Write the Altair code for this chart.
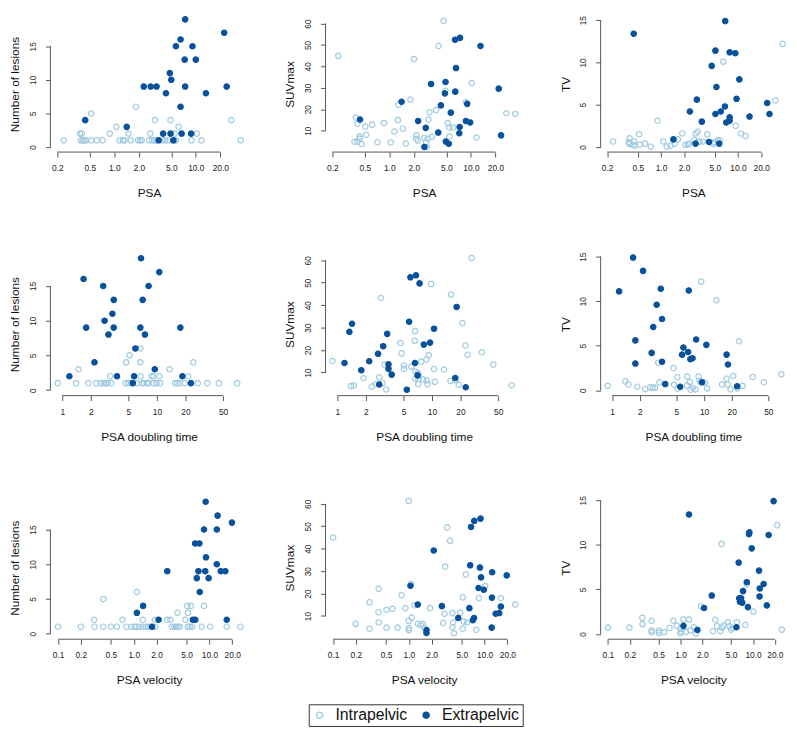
import altair as alt
import pandas as pd

GROUPS = ["Intrapelvic", "Extrapelvic"]
LIGHT = "#9ecae1"
DARK = "#08519c"
AXC = "#555555"
FONT = "Liberation Sans"

# ---------------- tick values ----------------
PSA_TICKS = [0.2, 0.5, 1, 2, 5, 10, 20]
PSADT_TICKS = [1, 2, 5, 10, 20, 50]
PSAV_TICKS = [0.1, 0.2, 0.5, 1, 2, 5, 10, 20]
LES_TICKS = [0, 5, 10, 15]
SUV_TICKS = [10, 20, 30, 40, 50, 60]
TV_TICKS = [0, 5, 10, 15]

# ---------------- panel 1: PSA vs Number of lesions ----------------
p1_ex_x = [7.4, 22.3, 6.5, 5.7, 9.1, 7.3, 10.0, 4.8, 5.0, 2.3, 2.8, 3.3, 7.4, 23.9, 4.3, 13.3, 6.5, 0.44, 1.42, 3.97, 4.9, 6.7, 8.75, 3.5, 5.3]
p1_ex_y = [19, 17, 16, 15, 15, 13, 13, 11, 10, 9, 9, 9, 9, 9, 8, 8, 6, 4, 3, 2, 2, 2, 2, 1, 1]
p1_in_x = [0.24, 0.39, 0.41, 0.43, 0.45, 0.52, 0.61, 0.72, 1.16, 1.28, 1.34, 1.59, 1.96, 2.08, 2.17, 2.67, 2.93, 3.10, 3.27, 3.87, 4.21, 4.61, 5.45, 5.71, 8.84, 11.7, 35.6,
           0.38, 0.40, 0.88, 1.49, 2.77, 5.5, 10.3,
           1.06, 6.15,
           3.15, 4.9, 27.2,
           0.52,
           1.84]
p1_in_y = [1] * 27 + [2] * 7 + [3] * 2 + [4] * 3 + [5] + [6]

# ---------------- panel 2: PSA vs SUVmax ----------------
p2_ex_x = [7.34, 6.38, 13.1, 6.56, 4.88, 3.24, 21.9, 6.43, 4.79, 4.28, 9.0, 1.41, 5.66, 0.436, 2.25, 8.67, 9.79, 7.27, 2.79, 3.97, 7.2, 23.4, 4.92, 5.35, 2.69]
p2_ex_y = [53.3, 52.4, 49.5, 39.2, 32.7, 31.8, 29.6, 28.2, 27.4, 21.8, 22.5, 23.5, 18.4, 15.2, 14.5, 14.5, 13.8, 11.7, 11.3, 9.1, 8.8, 7.8, 4.9, 3.9, 2.4]
p2_in_x = [4.61, 0.236, 4.01, 2.0, 10.2, 4.88, 1.81, 1.29, 8.67, 3.73, 3.1, 27.2, 34.9, 0.387, 1.27, 3.01, 0.859, 0.405, 0.615, 0.506, 5.2, 5.45, 6.04, 1.46, 1.15, 0.52, 2.15, 2.13, 3.3, 2.67, 5.45, 11.7, 0.43, 0.43, 0.373, 0.405, 0.457, 0.713, 1.04, 1.59, 2.23, 2.82, 2.86, 2.95]
p2_in_y = [61.2, 44.9, 49.5, 43.4, 32.2, 28.6, 24.5, 22.1, 23.2, 19.6, 18.6, 18.1, 17.8, 16.1, 14.9, 15.2, 13.5, 13.2, 12.8, 11.9, 13.5, 11.5, 11.5, 10.9, 9.6, 8.1, 7.8, 6.2, 7.1, 6.7, 7.2, 6.8, 7.2, 6.2, 4.8, 4.9, 3.75, 4.6, 4.5, 4.0, 5.3, 4.5, 2.4, 6.2]

# ---------------- panel 3: PSA vs TV ----------------
p3_ex_x = [6.82, 0.442, 5.09, 7.78, 9.22, 4.55, 10.4, 5.24, 2.92, 9.57, 23.9, 2.37, 6.76, 5.97, 5.09, 25.6, 7.78, 14.1, 7.78, 7.02, 3.39, 1.45, 4.21, 2.81, 5.7]
p3_ex_y = [14.9, 13.4, 11.4, 11.2, 11.1, 9.6, 8.0, 7.1, 5.6, 5.7, 5.2, 4.2, 4.8, 4.2, 3.9, 3.9, 3.5, 3.6, 3.1, 2.9, 3.0, 0.9, 0.6, 0.4, 0.4]
p3_in_x = [38.0, 6.44, 0.897, 9.31, 30.6, 10.9, 12.5, 0.519, 0.239, 0.391, 0.38, 0.39, 0.446, 0.43, 0.46, 0.53, 0.621, 0.736, 1.07, 1.19, 1.33, 1.5, 1.66, 1.89, 2.08, 2.24, 2.3, 2.70, 2.82, 3.0, 3.05, 3.2, 3.5, 3.98, 4.9, 5.44, 5.8, 4.72]
p3_in_y = [12.2, 10.1, 3.1, 2.5, 5.5, 1.6, 1.3, 1.5, 0.66, 1.03, 0.55, 0.37, 0.66, 0.26, 0.15, 0.29, 0.4, 0.04, 0.66, 0.04, 0.15, 0.4, 0.9, 1.6, 0.26, 0.33, 0.37, 0.85, 1.6, 1.8, 0.63, 0.63, 0.66, 1.5, 0.55, 0.8, 0.8, 0.37]

# ---------------- panel 4: PSA doubling time vs Number of lesions ----------------
p4_ex_x = [6.8, 10.6, 1.68, 2.71, 8.17, 3.5, 7.07, 3.39, 1.79, 2.8, 3.5, 6.69, 17.7, 3.08, 7.48, 5.93, 2.19, 9.5, 1.19, 3.79, 5.75, 18.6, 5.56, 22.9]
p4_ex_y = [19, 17, 16, 15, 15, 13, 13, 11, 9, 10, 9, 9, 9, 8, 8, 6, 4, 3, 2, 2, 2, 2, 1, 1]
p4_in_x = [0.894, 1.40, 1.89, 2.29, 2.55, 2.76, 2.89, 3.01, 3.31, 4.67, 5.01, 5.35, 6.12, 6.96, 7.24, 7.85, 8.17, 9.2, 9.89, 10.8, 15.6, 16.4, 17.4, 19.7, 27.0, 34.1, 45.1, 70.5,
           3.21, 6.74, 8.77, 9.2, 10.6, 21.4,
           1.49, 13.6,
           4.74, 6.69, 24.2,
           5.14,
           6.69]
p4_in_y = [1] * 28 + [2] * 6 + [3] * 2 + [4] * 3 + [5] + [6]

# ---------------- panel 5: PSA doubling time vs SUVmax ----------------
p5_ex_x = [6.77, 5.91, 7.39, 18.2, 5.73, 1.43, 1.34, 10.5, 3.36, 3.05, 8.2, 9.53, 2.69, 6.61, 1.19, 2.17, 3.47, 3.47, 1.79, 3.75, 7.04, 17.6, 2.77, 22.7, 5.42]
p5_ex_y = [53.3, 52.4, 49.7, 39.2, 32.6, 31.7, 28.1, 29.5, 27.2, 21.7, 22.4, 23.3, 18.3, 14.2, 14.2, 15.0, 13.6, 11.6, 11.0, 9.0, 8.7, 7.5, 4.6, 3.4, 2.3]
p5_in_x = [26.2, 9.77, 2.89, 15.9, 21.0, 6.61, 6.56, 4.65, 22.5, 4.77, 9.23, 23.8, 33.6, 8.73, 7.69, 0.887, 44.4, 3.17, 5.04, 5.06, 6.05, 10.5, 13.4, 6.7, 7.1, 6.66, 7.2, 8.07, 8.8, 10.7, 15.7, 17.6, 1.89, 2.77, 1.49, 1.39, 2.31, 2.56, 3.0, 3.28, 7.15, 8.95, 19.2, 69.3, 7.2]
p5_in_y = [61.0, 49.4, 43.2, 44.7, 32.0, 28.4, 24.1, 23.1, 22.0, 18.5, 17.7, 17.9, 19.0, 15.8, 14.8, 15.1, 13.5, 13.5, 13.1, 11.6, 12.6, 11.5, 11.3, 10.4, 9.7, 7.2, 7.2, 6.9, 6.4, 5.8, 6.2, 6.6, 7.4, 7.8, 4.2, 3.9, 3.7, 4.75, 5.2, 2.4, 4.75, 4.75, 4.5, 4.3, 8.8]

# ---------------- panel 6: PSA doubling time vs TV ----------------
p6_ex_x = [1.69, 2.17, 1.19, 3.38, 6.82, 3.05, 3.49, 2.8, 1.79, 8.2, 10.6, 5.96, 2.69, 6.71, 5.77, 17.6, 7.1, 7.5, 3.49, 1.79, 18.2, 3.78, 5.5, 9.53, 22.9]
p6_ex_y = [14.9, 13.4, 11.1, 11.4, 11.2, 9.6, 8.0, 7.1, 5.6, 5.7, 5.1, 4.8, 4.2, 4.3, 4.0, 4.0, 3.5, 3.6, 3.2, 3.0, 2.9, 0.7, 0.4, 0.9, 0.45]
p6_in_x = [9.31, 13.6, 3.18, 4.65, 24.0, 69.3, 33.8, 44.7, 0.895, 1.39, 1.5, 1.88, 2.29, 2.6, 2.77, 2.93, 3.28, 5.12, 4.72, 5.16, 6.55, 6.55, 7.0, 7.15, 7.55, 8.05, 8.71, 8.94, 9.22, 10.2, 10.8, 15.7, 17.6, 18.0, 19.4, 20.8, 23.1, 26.3]
p6_in_y = [12.2, 10.1, 3.1, 2.5, 5.5, 1.8, 1.5, 0.9, 0.5, 1.0, 0.66, 0.4, 0.15, 0.33, 0.3, 0.3, 0.9, 1.47, 0.62, 0.18, 1.55, 0.55, 0.92, 0.07, 0.26, 0.11, 1.55, 1.07, 0.88, 0.88, 0.22, 0.66, 1.3, 0.66, 0.11, 1.6, 0.22, 0.5]

# ---------------- panel 7: PSA velocity vs Number of lesions ----------------
p7_ex_x = [8.91, 12.8, 19.8, 8.47, 12.5, 6.47, 7.36, 8.99, 12.5, 2.77, 7.15, 8.8, 14.1, 16.2, 6.8, 9.75, 7.44, 1.33, 1.10, 2.13, 6.03, 6.5, 16.9, 1.75]
p7_ex_y = [19, 17, 16, 15, 15, 13, 13, 11, 10, 9, 9, 9, 9, 9, 8, 8, 6, 4, 3, 2, 2, 2, 2, 1]
p7_in_x = [0.1, 0.2, 0.303, 0.394, 0.5, 0.599, 0.8, 0.93, 1.02, 1.09, 1.19, 1.32, 1.46, 1.55, 1.64, 1.93, 3.18, 3.44, 3.62, 3.85, 4.04, 5.19, 5.51, 5.91, 7.9, 10.2, 16.9, 25.7,
           0.3, 0.71, 1.32, 1.9, 2.77, 3.05, 4.79,
           3.77, 5.19,
           5.08, 5.68, 8.47,
           0.397,
           1.1]
p7_in_y = [1] * 28 + [2] * 7 + [3] * 2 + [4] * 3 + [5] + [6]

# ---------------- panel 8: PSA velocity vs SUVmax ----------------
p8_ex_x = [8.84, 7.31, 6.62, 2.13, 6.45, 8.67, 12.6, 19.6, 8.98, 8.32, 9.77, 1.05, 1.31, 2.73, 16.4, 6.3, 12.5, 15.6, 14.0, 4.49, 7.25, 7.0, 12.4, 1.71, 1.71]
p8_ex_y = [53.4, 52.4, 49.7, 39.2, 32.6, 31.6, 29.5, 28.1, 27.2, 22.5, 21.7, 23.5, 15.1, 14.4, 14.2, 13.5, 18.2, 11.3, 11.0, 9.1, 9.1, 8.1, 4.8, 3.7, 2.4]
p8_in_x = [1.0, 0.1, 3.2, 3.5, 3.01, 5.65, 1.07, 0.302, 0.399, 0.8, 0.397, 0.507, 0.607, 0.9, 1.19, 1.09, 1.0, 1.91, 2.96, 3.75, 4.77, 5.16, 8.4, 16.4, 10.2, 25.4, 0.302, 0.4, 0.507, 0.71, 1.0, 1.0, 1.32, 1.44, 1.53, 1.61, 0.199, 2.84, 3.85, 3.75, 3.94, 5.16, 5.3, 5.87, 7.77]
p8_in_y = [61.3, 45.0, 49.5, 43.5, 32.0, 28.5, 24.3, 16.1, 22.1, 19.3, 11.7, 12.8, 13.2, 13.5, 14.8, 9.3, 7.8, 13.5, 11.0, 11.3, 11.5, 18.3, 18.0, 17.9, 23.3, 15.1, 4.3, 7.1, 4.8, 4.8, 3.7, 4.6, 6.5, 5.9, 6.5, 4.6, 6.5, 6.9, 7.1, 5.0, 2.3, 4.3, 7.5, 7.1, 3.9]

# ---------------- panel 9: PSA velocity vs TV ----------------
p9_ex_x = [19.2, 1.31, 8.79, 8.9, 16.4, 9.6, 6.34, 12.1, 8.2, 14.0, 12.4, 7.28, 2.7, 12.3, 6.45, 6.85, 6.6, 7.1, 15.5, 8.5, 2.11, 1.1, 5.91, 1.71]
p9_ex_y = [14.9, 13.4, 11.2, 11.4, 11.1, 9.6, 8.0, 7.1, 5.8, 5.6, 5.1, 4.8, 4.3, 4.2, 4.0, 4.0, 3.6, 3.5, 3.2, 3.0, 2.9, 0.9, 0.74, 0.44]
p9_in_x = [21.5, 3.67, 8.2, 1.92, 10.1, 0.298, 0.3, 0.4, 0.796, 1.1, 1.31, 3.01, 6.0, 7.8, 0.1, 0.198, 0.4, 0.4, 0.505, 0.505, 0.597, 0.707, 0.888, 1.0, 1.02, 1.0, 1.19, 1.37, 1.53, 1.63, 2.81, 3.19, 3.55, 3.73, 3.94, 4.7, 5.0, 5.2, 24.9, 4.5]
p9_in_y = [12.2, 10.1, 5.55, 3.1, 2.5, 1.8, 1.07, 1.47, 1.47, 1.6, 1.6, 1.58, 1.3, 0.99, 0.7, 0.7, 0.18, 0.37, 0.37, 0.11, 0.18, 0.66, 0.92, 0.55, 0.26, 0.07, 0.22, 0.4, 0.74, 0.04, 0.29, 0.88, 0.33, 0.7, 0.92, 0.85, 0.48, 0.66, 0.48, 1.3]


def make_df(ix, iy, ex, ey):
    return pd.DataFrame({
        "x": list(ix) + list(ex),
        "y": list(iy) + list(ey),
        "group": [GROUPS[0]] * len(ix) + [GROUPS[1]] * len(ex),
    })


LEGEND = alt.Legend(
    title=None, orient="none", legendX=262, legendY=698, direction="horizontal",
    strokeColor="#333333", padding=3, labelFont=FONT, labelFontSize=16, labelColor="#111111",
    symbolType="circle", symbolSize=40, symbolStrokeWidth=1.3, labelOffset=8, columnPadding=11,
)


def panel(df, xtitle, xticks, xfmt, xdom, ytitle, yticks, ydom, width, height, xlabpad=7):
    xscale = alt.Scale(type="log", domain=xdom, nice=False)
    yscale = alt.Scale(domain=ydom, nice=False, zero=False)
    xaxis = alt.Axis(
        values=xticks, format=xfmt, title=xtitle, domain=False, grid=False,
        tickSize=5, tickColor=AXC, tickWidth=1, labelPadding=xlabpad, labelFontSize=8.5,
        labelFont=FONT, labelColor="#222222", labelFlush=False, labelOverlap=False,
        titleFont=FONT, titleFontSize=12, titleFontWeight="normal", titleColor="#111111",
        titlePadding=12, minExtent=24, maxExtent=24,
    )
    yaxis = alt.Axis(
        values=yticks, format="d", title=ytitle, domain=False, grid=False,
        tickSize=5, tickColor=AXC, tickWidth=1, labelPadding=8, labelFontSize=8.5,
        labelFont=FONT, labelColor="#222222", labelFlush=False, labelOverlap=False,
        labelAngle=270, labelAlign="center", labelBaseline="bottom",
        titleFont=FONT, titleFontSize=12, titleFontWeight="normal", titleColor="#111111",
        titlePadding=7, minExtent=22, maxExtent=22,
    )
    pts = alt.Chart(df).mark_point(size=30, strokeWidth=1.2, opacity=1).encode(
        x=alt.X("x:Q", scale=xscale, axis=xaxis),
        y=alt.Y("y:Q", scale=yscale, axis=yaxis),
        stroke=alt.Stroke("group:N", scale=alt.Scale(domain=GROUPS, range=[LIGHT, DARK]), legend=LEGEND),
        fill=alt.Fill("group:N", scale=alt.Scale(domain=GROUPS, range=["transparent", DARK]), legend=LEGEND),
    )
    xline = alt.Chart(pd.DataFrame({"x": [xticks[0]], "b": [xticks[-1]]})).mark_rule(
        color=AXC, strokeWidth=1).encode(
        x=alt.X("x:Q", scale=xscale, axis=xaxis), x2="b:Q", y=alt.value(height))
    yline = alt.Chart(pd.DataFrame({"y": [yticks[0]], "b": [yticks[-1]]})).mark_rule(
        color=AXC, strokeWidth=1).encode(
        y=alt.Y("y:Q", scale=yscale, axis=yaxis), y2="b:Q", x=alt.value(0))
    return alt.layer(pts, xline, yline).properties(width=width, height=height)


H1, H = 138, 145
W, W3 = 200, 188
HSP = 35

row1 = alt.hconcat(
    panel(make_df(p1_in_x, p1_in_y, p1_ex_x, p1_ex_y), "PSA", PSA_TICKS, ".1f", [0.1646, 43.2],
          "Number of lesions", LES_TICKS, [-0.75, 19.5], W, H1),
    panel(make_df(p2_in_x, p2_in_y, p2_ex_x, p2_ex_y), "PSA", PSA_TICKS, ".1f", [0.1646, 43.2],
          "SUVmax", SUV_TICKS, [0, 63.5], W, H1),
    panel(make_df(p3_in_x, p3_in_y, p3_ex_x, p3_ex_y), "PSA", PSA_TICKS, ".1f", [0.1646, 42],
          "TV", TV_TICKS, [-0.6, 15.5], W3, H1),
    spacing=HSP,
)
row2 = alt.hconcat(
    panel(make_df(p4_in_x, p4_in_y, p4_ex_x, p4_ex_y), "PSA doubling time", PSADT_TICKS, "d", [0.75, 90.9],
          "Number of lesions", LES_TICKS, [-0.8, 19.8], W, H),
    panel(make_df(p5_in_x, p5_in_y, p5_ex_x, p5_ex_y), "PSA doubling time", PSADT_TICKS, "d", [0.75, 90.9],
          "SUVmax", SUV_TICKS, [-0.35, 63.4], W, H),
    panel(make_df(p6_in_x, p6_in_y, p6_ex_x, p6_ex_y), "PSA doubling time", PSADT_TICKS, "d", [0.75, 78],
          "TV", TV_TICKS, [-0.6, 15.45], W3, H),
    spacing=HSP,
)
row3 = alt.hconcat(
    panel(make_df(p7_in_x, p7_in_y, p7_ex_x, p7_ex_y), "PSA velocity", PSAV_TICKS, ".1f", [0.0794, 31.9],
          "Number of lesions", LES_TICKS, [-0.8, 19.8], W, H),
    panel(make_df(p8_in_x, p8_in_y, p8_ex_x, p8_ex_y), "PSA velocity", PSAV_TICKS, ".1f", [0.0794, 31.9],
          "SUVmax", SUV_TICKS, [-0.35, 63.4], W, H),
    panel(make_df(p9_in_x, p9_in_y, p9_ex_x, p9_ex_y), "PSA velocity", PSAV_TICKS, ".1f", [0.0794, 28.5],
          "TV", TV_TICKS, [-0.6, 15.45], W3, H),
    spacing=HSP,
)

chart = alt.vconcat(row1, row2, row3, spacing=52).properties(
    padding=0, background="white"
).configure_view(stroke="transparent", fill="white")

chart.save("out.html", embed_options={"renderer": "svg", "actions": False})
